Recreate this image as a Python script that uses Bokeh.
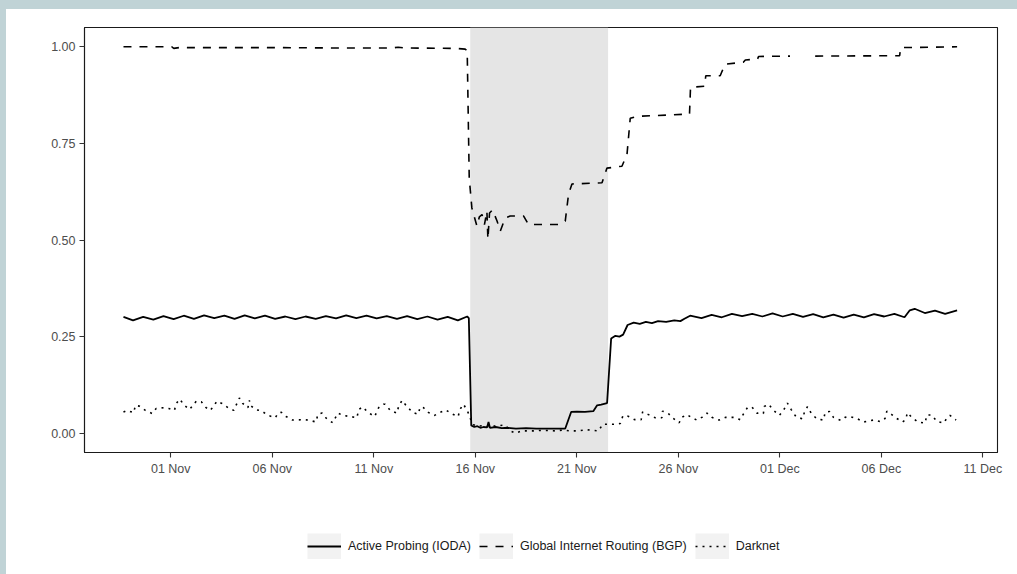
import pandas as pd
from bokeh.plotting import figure
from bokeh.layouts import column
from bokeh.models import (BoxAnnotation, Legend, LegendItem, FixedTicker,
                          DatetimeTickFormatter, PrintfTickFormatter, Range1d, ColumnDataSource)
from bokeh.embed import file_html
from bokeh.resources import INLINE

# ---------------- data (day offset from 01 Nov, value) ----------------
BASE_DATE = "2023-11-01"

iod_series = [
    (-2.33, 0.301), (-1.86, 0.292), (-1.36, 0.301), (-0.86, 0.294), (-0.36, 0.303),
    (0.14, 0.295), (0.64, 0.304), (1.14, 0.296), (1.64, 0.305), (2.14, 0.298),
    (2.64, 0.304), (3.14, 0.296), (3.64, 0.305), (4.14, 0.297), (4.64, 0.304),
    (5.14, 0.296), (5.64, 0.302), (6.14, 0.295), (6.64, 0.302), (7.14, 0.296),
    (7.64, 0.303), (8.14, 0.297), (8.64, 0.305), (9.14, 0.298), (9.64, 0.304),
    (10.14, 0.297), (10.64, 0.303), (11.14, 0.296), (11.64, 0.303), (12.14, 0.295),
    (12.64, 0.302), (13.14, 0.294), (13.64, 0.301), (14.14, 0.292), (14.60, 0.302),
    (14.68, 0.298), (14.80, 0.020), (14.95, 0.016), (15.10, 0.018), (15.25, 0.014),
    (15.40, 0.016), (15.58, 0.015), (15.65, 0.029), (15.72, 0.014), (16.00, 0.016),
    (16.30, 0.013), (16.60, 0.014), (17.00, 0.012), (17.50, 0.013), (18.00, 0.012),
    (18.50, 0.012), (19.00, 0.012), (19.43, 0.012), (19.72, 0.055), (20.00, 0.056),
    (20.40, 0.055), (20.81, 0.057), (21.00, 0.072), (21.20, 0.074), (21.49, 0.078),
    (21.69, 0.245), (21.90, 0.252), (22.10, 0.250), (22.28, 0.255), (22.50, 0.280),
    (22.80, 0.286), (23.10, 0.283), (23.40, 0.288), (23.70, 0.285), (24.00, 0.290),
    (24.40, 0.288), (24.80, 0.292), (25.10, 0.290), (25.30, 0.296), (25.58, 0.304),
    (26.14, 0.298), (26.64, 0.306), (27.14, 0.300), (27.64, 0.309), (28.14, 0.303),
    (28.64, 0.309), (29.14, 0.302), (29.64, 0.310), (30.14, 0.302), (30.64, 0.309),
    (31.14, 0.301), (31.64, 0.308), (32.14, 0.300), (32.64, 0.307), (33.14, 0.299),
    (33.64, 0.307), (34.14, 0.300), (34.64, 0.308), (35.14, 0.302), (35.64, 0.309),
    (36.14, 0.300), (36.40, 0.318), (36.64, 0.322), (37.14, 0.311), (37.64, 0.317),
    (38.14, 0.309), (38.73, 0.318),
]

NAN = float("nan")
bgp_series = [
    (-2.33, 1.000), (0.05, 1.000), (0.15, 0.996), (0.40, 0.998), (2.0, 0.998),
    (5.0, 0.998), (8.0, 0.997), (10.9, 0.997), (11.2, 0.999), (11.5, 0.997),
    (14.0, 0.996), (14.50, 0.994), (14.60, 0.990), (14.70, 0.660), (14.83, 0.583),
    (14.95, 0.560), (15.08, 0.536), (15.20, 0.560), (15.33, 0.566), (15.45, 0.540),
    (15.57, 0.575), (15.62, 0.502), (15.70, 0.570), (15.85, 0.578), (16.07, 0.549),
    (16.23, 0.523), (16.47, 0.557), (16.72, 0.562), (17.38, 0.562), (17.62, 0.540),
    (19.18, 0.540), (19.43, 0.549), (19.59, 0.618), (19.76, 0.645), (21.24, 0.648),
    (21.48, 0.686), (22.22, 0.691), (22.47, 0.721), (22.63, 0.815), (22.96, 0.820),
    (25.55, 0.826), (25.60, 0.895), (26.30, 0.898), (26.35, 0.925), (27.06, 0.925),
    (27.30, 0.955), (28.20, 0.960), (28.30, 0.966), (28.90, 0.968), (28.95, 0.975),
    (30.50, 0.976), (31.10, NAN), (31.74, 0.976), (35.90, 0.977), (35.95, 0.998),
    (38.73, 1.000),
]

dark_series = [
    (-2.33, 0.055), (-2.15, 0.059), (-1.83, 0.053), (-1.74, 0.072), (-1.55, 0.070),
    (-1.25, 0.059), (-0.92, 0.051), (-0.72, 0.064), (-0.46, 0.066), (-0.10, 0.064),
    (0.18, 0.059), (0.26, 0.076), (0.44, 0.088), (0.67, 0.072), (0.92, 0.061),
    (1.26, 0.083), (1.51, 0.081), (1.74, 0.066), (1.95, 0.059), (2.28, 0.083),
    (2.52, 0.077), (2.82, 0.066), (3.10, 0.059), (3.38, 0.091), (3.54, 0.077),
    (3.80, 0.066), (3.87, 0.085), (3.92, 0.072), (4.17, 0.061), (4.46, 0.058),
    (4.79, 0.046), (5.15, 0.040), (5.28, 0.052), (5.45, 0.054), (5.68, 0.043),
    (6.00, 0.034), (6.12, 0.034), (6.46, 0.035), (6.79, 0.034), (7.15, 0.029),
    (7.25, 0.049), (7.45, 0.052), (7.65, 0.039), (7.97, 0.027), (8.24, 0.052),
    (8.46, 0.046), (8.84, 0.043), (9.17, 0.040), (9.25, 0.061), (9.45, 0.068),
    (9.71, 0.054), (10.04, 0.043), (10.24, 0.066), (10.48, 0.075), (10.56, 0.075),
    (10.81, 0.059), (11.14, 0.052), (11.22, 0.069), (11.39, 0.085), (11.63, 0.069),
    (11.91, 0.054), (12.18, 0.049), (12.29, 0.068), (12.45, 0.066), (12.67, 0.054),
    (12.99, 0.046), (13.27, 0.054), (13.55, 0.060), (13.85, 0.050), (14.15, 0.043),
    (14.26, 0.063), (14.42, 0.075), (14.64, 0.054), (14.75, 0.038), (14.90, 0.022),
    (15.10, 0.018), (15.40, 0.020), (15.70, 0.016), (16.00, 0.019), (16.47, 0.021),
    (16.72, 0.006), (16.97, 0.000), (17.30, 0.006), (17.87, 0.006), (18.20, 0.007),
    (18.60, 0.007), (18.94, 0.006), (19.30, 0.008), (19.67, 0.006), (20.08, 0.006),
    (20.46, 0.009), (21.07, 0.006), (21.27, 0.023), (21.81, 0.023), (22.14, 0.025),
    (22.27, 0.045), (22.52, 0.044), (22.84, 0.035), (23.17, 0.035), (23.24, 0.055),
    (23.53, 0.048), (23.86, 0.040), (24.19, 0.040), (24.22, 0.057), (24.49, 0.052),
    (24.71, 0.040), (25.04, 0.027), (25.17, 0.041), (25.42, 0.048), (25.67, 0.040),
    (25.91, 0.034), (26.16, 0.041), (26.41, 0.052), (26.65, 0.041), (27.01, 0.034),
    (27.34, 0.041), (27.72, 0.041), (28.05, 0.035), (28.21, 0.050), (28.40, 0.066),
    (28.62, 0.068), (28.87, 0.052), (29.19, 0.051), (29.23, 0.069), (29.44, 0.075),
    (29.69, 0.059), (29.98, 0.046), (30.23, 0.064), (30.37, 0.078), (30.56, 0.061),
    (30.79, 0.043), (31.11, 0.037), (31.21, 0.054), (31.36, 0.069), (31.54, 0.052),
    (31.82, 0.037), (32.15, 0.034), (32.23, 0.054), (32.44, 0.056), (32.64, 0.041),
    (33.00, 0.033), (33.21, 0.041), (33.46, 0.043), (33.79, 0.038), (34.12, 0.029),
    (34.61, 0.034), (34.94, 0.030), (35.18, 0.038), (35.27, 0.057), (35.51, 0.048),
    (35.76, 0.038), (36.04, 0.029), (36.20, 0.035), (36.28, 0.053), (36.50, 0.041),
    (36.80, 0.029), (37.15, 0.026), (37.24, 0.047), (37.48, 0.047), (37.73, 0.031),
    (38.06, 0.026), (38.22, 0.038), (38.38, 0.046), (38.68, 0.034),
]

outage_window = (14.75, 21.54)          # shaded period, days from 01 Nov
x_limits = (-4.25, 40.72)               # axis limits, days from 01 Nov
y_limits = (-0.05, 1.05)
x_tick_dates = ["2023-11-01", "2023-11-06", "2023-11-11", "2023-11-16", "2023-11-21",
                "2023-11-26", "2023-12-01", "2023-12-06", "2023-12-11"]
y_ticks = [0.0, 0.25, 0.50, 0.75, 1.00]
series_labels = ["Active Probing (IODA)", "Global Internet Routing (BGP)", "Darknet"]

# ---------------- helpers ----------------
base = pd.Timestamp(BASE_DATE)


def to_ms(day):
    return (base + pd.Timedelta(days=day)).value / 1e6


def make_source(series):
    days = [d for d, _ in series]
    vals = [v for _, v in series]
    return ColumnDataSource(dict(x=[to_ms(d) for d in days], y=vals))


FONT = "Liberation Sans"
IOD_STYLE = dict(line_color="black", line_width=1.8)
BGP_STYLE = dict(line_color="black", line_width=1.6, line_dash="8 8")
DARK_STYLE = dict(line_color="black", line_width=1.6, line_dash="2 5")

p = figure(width=1011, height=490, output_backend="svg", toolbar_location=None,
           x_axis_type="datetime",
           x_range=Range1d(to_ms(x_limits[0]), to_ms(x_limits[1])),
           y_range=Range1d(*y_limits),
           min_border_left=78, min_border_right=20, min_border_top=18, min_border_bottom=47)

p.background_fill_color = "white"
p.border_fill_color = "white"
p.outline_line_color = "#1a1a1a"
p.outline_line_width = 1.1
p.xgrid.grid_line_color = None
p.ygrid.grid_line_color = None

shade = BoxAnnotation(left=to_ms(outage_window[0]), right=to_ms(outage_window[1]),
                      fill_color="#e5e5e5", fill_alpha=1.0, line_color=None, level="underlay")
p.add_layout(shade)

p.line("x", "y", source=make_source(iod_series), **IOD_STYLE)
p.line("x", "y", source=make_source(bgp_series), **BGP_STYLE)
p.line("x", "y", source=make_source(dark_series), **DARK_STYLE)

# axes
p.xaxis.ticker = FixedTicker(ticks=[pd.Timestamp(d).value / 1e6 for d in x_tick_dates])
p.xaxis.formatter = DatetimeTickFormatter(
    milliseconds="%d %b", seconds="%d %b", minsec="%d %b", minutes="%d %b",
    hourmin="%d %b", hours="%d %b", days="%d %b", months="%d %b", years="%d %b")
p.yaxis.ticker = FixedTicker(ticks=y_ticks)
p.yaxis.formatter = PrintfTickFormatter(format="%.2f")

for ax in (p.xaxis[0], p.yaxis[0]):
    ax.axis_line_color = "#1a1a1a"
    ax.axis_line_width = 1.1
    ax.major_tick_line_color = "#333333"
    ax.major_tick_line_width = 1.1
    ax.major_tick_out = 5
    ax.major_tick_in = 0
    ax.minor_tick_out = 0
    ax.minor_tick_in = 0
    ax.major_label_text_font = FONT
    ax.major_label_text_font_size = "12.5px"
    ax.major_label_text_color = "#4d4d4d"
    ax.major_label_standoff = 4

# ---------------- legend strip below the chart ----------------
lf = figure(width=1011, height=75, output_backend="svg", toolbar_location=None,
            x_axis_location=None, y_axis_location=None,
            x_range=Range1d(0, 1), y_range=Range1d(0, 1),
            min_border_left=0, min_border_right=0, min_border_top=0, min_border_bottom=0)
lf.outline_line_color = None
lf.background_fill_alpha = 0
lf.border_fill_color = "white"
lf.xgrid.grid_line_color = None
lf.ygrid.grid_line_color = None

# key renderers: their points sit outside the strip's range, so only legend keys show
off = dict(x=[5, 6], y=[5, 5])
key_bg = lf.line(line_color="#f2f2f2", line_width=26, **off)
k_iod = lf.line(**off, **IOD_STYLE)
k_bgp = lf.line(**off, **BGP_STYLE)
k_dark = lf.line(**off, **DARK_STYLE)

legend = Legend(
    items=[LegendItem(label=series_labels[0], renderers=[key_bg, k_iod]),
           LegendItem(label=series_labels[1], renderers=[key_bg, k_bgp]),
           LegendItem(label=series_labels[2], renderers=[key_bg, k_dark])],
    orientation="horizontal", location=(223, 15),
    glyph_width=34, glyph_height=26, label_standoff=7, spacing=8,
    padding=0, margin=0, border_line_color=None, background_fill_alpha=0,
    label_text_font=FONT, label_text_font_size="12.5px", label_text_color="#1a1a1a",
)
lf.add_layout(legend)

layout = column(p, lf, spacing=0, styles={"background-color": "white"})

html = file_html(layout, INLINE)
html = html.replace(
    "</head>",
    "<style>html,body{background:#c0d3d6;}body{margin:9px 0 0 6px;overflow:hidden;}</style></head>",
    1)
open("out.html", "w").write(html)
